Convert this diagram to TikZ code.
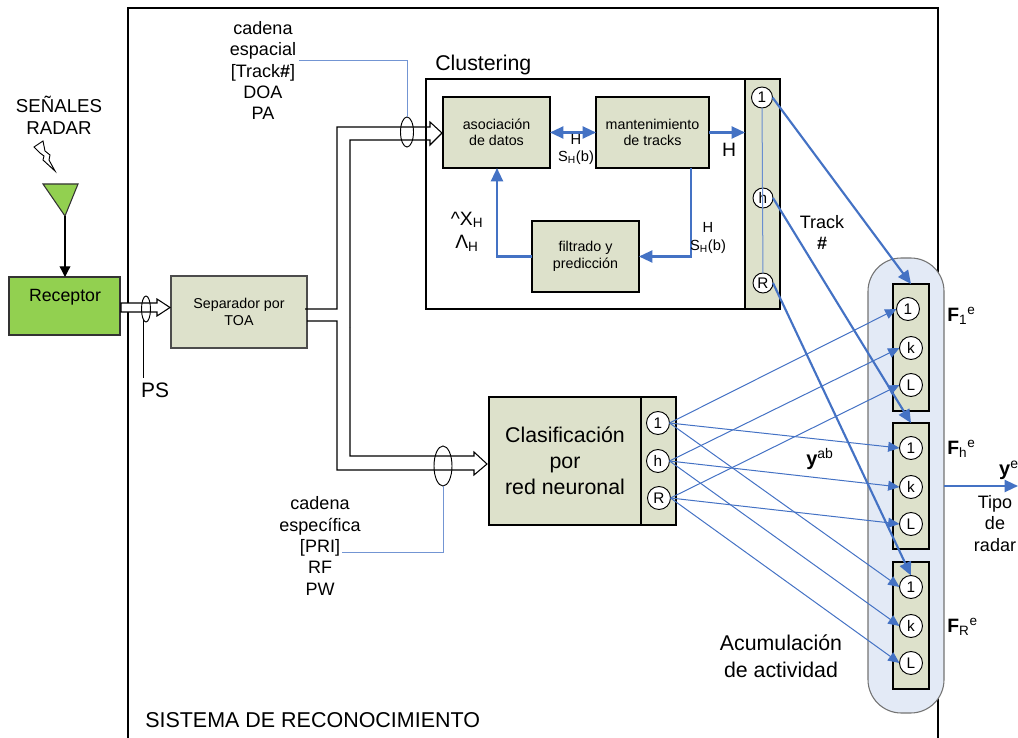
\documentclass[tikz,border=0pt]{standalone}
\usepackage{fontspec}
\setmainfont{Liberation Sans}
\usetikzlibrary{arrows.meta,shapes.geometric}
\definecolor{boxfill}{HTML}{DDE1CB}
\definecolor{recfill}{HTML}{92D050}
\definecolor{linkblue}{HTML}{4472C4}
\definecolor{capfill}{HTML}{E3EAF6}
\newcommand{\fs}[2]{\fontsize{#1}{#2}\selectfont}
\tikzset{
  proc/.style={draw=black,line width=1.5pt,fill=boxfill,inner sep=0pt,outer sep=0pt,align=center,font=\fs{10.7}{12.4}},
  ring/.style={circle,draw=black,line width=.7pt,fill=white,inner sep=0pt,outer sep=0pt,font=\fs{11.5}{12}},
  label/.style={inner sep=0pt,align=center,font=\fs{13.5}{16}},
  small/.style={inner sep=0pt,align=center,font=\fs{11}{12.8}},
  big/.style={inner sep=0pt,align=center,font=\fs{16}{20}},
  thicklink/.style={draw=linkblue,line width=1.6pt,-{Triangle[length=10pt,width=9pt]}},
  thinlink/.style={draw=linkblue,line width=.75pt,-{Triangle[length=8.5pt,width=7.5pt]}},
  tap/.style={draw=linkblue!75,line width=.75pt},
  pipe/.style={draw=black,line width=.8pt},
  bundle/.style={ellipse,draw=black,line width=.7pt,inner sep=0pt,outer sep=0pt},
  flabel/.style={inner sep=0pt,anchor=west,font=\fs{14.5}{16}}
}
\begin{document}
\begin{tikzpicture}[x=.75pt,y=-.75pt]
\useasboundingbox (0,0) rectangle (1018,738);
% system frame
\draw[line width=1.8pt] (128,738) -- (128,8) -- (938,8) -- (938,738);
\node[big,anchor=west,font=\fs{16.1}{20}] (sys) at (145,720) {SISTEMA DE RECONOCIMIENTO};
% antenna and receiver
\node[label,font=\fs{14}{16.5}] (sig) at (59,115.5) {SEÑALES\\RADAR};
\draw[line width=.7pt,fill=white,line join=miter] (34,147) -- (43,141) -- (45,151) -- (50,155) -- (49,160) -- (55,171) -- (43,160) -- (44,156) -- (40,153) -- cycle;
\node[draw=black!80,line width=.8pt,fill=recfill,minimum width=111pt*.75,minimum height=58pt*.75,inner sep=0pt,outer sep=0pt,anchor=north west] (rec) at (9,277) {};
\node[inner sep=0pt,font=\fs{13.3}{15}] (rectxt) at (65,297) {Receptor};
\path[draw=black!80,line width=.8pt,fill=recfill] (43,184) -- (78,184) -- (65,216) -- cycle;
\coordinate (tip) at (65,216);
\draw[line width=1pt,-{Triangle[length=8pt,width=8pt]}] (tip) -- (rec.north -| tip);
% separator
\node[proc,draw=black!70,line width=.9pt,minimum width=136pt*.75,minimum height=72pt*.75,anchor=north west] (sep) at (171,276) {Separador por\\TOA};
\draw[pipe,fill=white] (121,303) -- (157,303) -- (157,299) -- (170,307.5) -- (157,316) -- (157,312) -- (121,312) -- cycle;
\node[bundle,minimum width=9pt*.75,minimum height=26pt*.75] (psring) at (146,309) {};
\node[inner sep=0pt,font=\fs{15.7}{18}] (ps) at (155,390) {PS};
\draw[line width=.7pt] (143,320) -- (143,378);
% pipes
\draw[pipe] (305,309) -- (337,309) -- (337,127) -- (430,127) -- (430,122) -- (442,133) -- (430,145) -- (430,140) -- (350,140) -- (350,327);
\draw[pipe] (307,321) -- (337,321) -- (337,470) -- (474,470) -- (474,475) -- (487,464) -- (474,452) -- (474,456) -- (350,456) -- (350,327);
\node[bundle,minimum width=13pt*.75,minimum height=30pt*.75] (ringa) at (407,132) {};
\node[bundle,minimum width=18pt*.75,minimum height=40pt*.75] (ringb) at (443,466) {};
\node[label] (spatial) at (263,70.5) {cadena\\espacial\\[0pt][Track\textbf{\#}]\\DOA\\PA};
\node[label] (specific) at (320,546) {cadena\\específica\\[0pt][PRI]\\RF\\PW};
\coordinate (ca) at (299,61);
\coordinate (cb) at (342,552);
\draw[tap] (ringa.north) |- (ca);
\draw[tap] (ringb.south) |- (cb);
% clustering
\node[big,anchor=west] (clt) at (435,65) {Clustering};
\draw[line width=1.6pt] (426,79) rectangle (745,309);
\node[proc,minimum width=35pt*.75,minimum height=230pt*.75,anchor=north west] (band) at (745,79) {};
\node[proc,minimum width=107pt*.75,minimum height=71pt*.75,anchor=north west] (aso) at (443,97) {asociación\\de datos};
\node[proc,minimum width=113pt*.75,minimum height=71pt*.75,anchor=north west] (man) at (596,97) {mantenimiento\\de tracks};
\node[proc,minimum width=107pt*.75,minimum height=71pt*.75,anchor=north west] (fil) at (532,221) {filtrado y\\predicción};
\draw[thicklink,{Triangle[length=10pt,width=9pt]}-{Triangle[length=10pt,width=9pt]}] (aso) -- (man);
\draw[thicklink] (man.east) -- (band.west |- man.east);
\coordinate (manout) at (691,168);
\draw[thicklink] (manout) |- (fil.east);
\coordinate (asoin) at (497,168);
\draw[thicklink] (fil.west) -| (asoin);
\node[small] (lh1) at (576,149.5) {H\\S\textsubscript{H}(b)};
\node[small] (lh2) at (708,238) {H\\S\textsubscript{H}(b)};
\node[label,font=\fs{14.5}{16}] (lh3) at (729,150) {H};
\node[label,font=\fs{14.5}{17.5}] (lx) at (467,231.5) {\textasciicircum X\textsubscript{H}\\Λ\textsubscript{H}};
\node[ring,minimum size=21pt*.75] (t1) at (762,97.5) {1};
\node[ring,minimum size=20pt*.75] (th) at (763,198) {h};
\node[ring,minimum size=20pt*.75] (tr) at (763,283) {R};
\draw[tap,draw=linkblue!80] (t1) -- (tr);
\node[label] (trk) at (822,232.5) {Track\\\textbf{\#}};
% classifier
\node[proc,font=\fs{16}{19.5},minimum width=152pt*.75,minimum height=128pt*.75,anchor=north west] (cla) at (489,397) {Clasificación\\por\\red neuronal};
\node[proc,minimum width=35pt*.75,minimum height=128pt*.75,anchor=north west] (cband) at (641,397) {};
\node[ring,minimum size=23pt*.75] (c1) at (658,423) {1};
\node[ring,minimum size=23pt*.75] (ch) at (658,461) {h};
\node[ring,minimum size=23pt*.75] (cr) at (659,498) {R};
% accumulation capsule
\node[draw=black!55,line width=.8pt,fill=capfill,rounded corners=25pt,outer sep=0pt,minimum width=76pt*.75,minimum height=455pt*.75,anchor=north west] (cap) at (868,258) {};
\node[proc,minimum width=36pt*.75,minimum height=127pt*.75,anchor=north west] (fa) at (893,284) {};
\node[proc,minimum width=36pt*.75,minimum height=126pt*.75,anchor=north west] (fb) at (893,423) {};
\node[proc,minimum width=36pt*.75,minimum height=127pt*.75,anchor=north west] (fc) at (893,562) {};
\node[ring,minimum size=23pt*.75] (a1) at (908,309) {1};
\node[ring,minimum size=23pt*.75] (ak) at (911,348) {k};
\node[ring,minimum size=23pt*.75] (al) at (911,385) {L};
\node[ring,minimum size=23pt*.75] (b1) at (911,448) {1};
\node[ring,minimum size=23pt*.75] (bk) at (911,487) {k};
\node[ring,minimum size=23pt*.75] (bl) at (911,524) {L};
\node[ring,minimum size=23pt*.75] (d1) at (911,587) {1};
\node[ring,minimum size=23pt*.75] (dk) at (911,626) {k};
\node[ring,minimum size=23pt*.75] (dl) at (911,663) {L};
% classifier links
\draw[thinlink] (c1.east) -- (a1.west);
\draw[thinlink] (c1.east) -- (b1.west);
\draw[thinlink] (c1.east) -- (d1.west);
\draw[thinlink] (ch.east) -- (ak.west);
\draw[thinlink] (ch.east) -- (bk.west);
\draw[thinlink] (ch.east) -- (dk.west);
\draw[thinlink] (cr.east) -- (al.west);
\draw[thinlink] (cr.east) -- (bl.west);
\draw[thinlink] (cr.east) -- (dl.west);
% track links
\draw[thicklink] (t1.east) -- (fa.north);
\draw[thicklink] (th.east) -- (fb.north);
\draw[thicklink] (tr.east) -- (d1.north);
% output
\coordinate (out) at (1018,486);
\draw[thicklink] (cap.east |- out) -- (out);
\node[flabel] (fal) at (947,316) {\textbf{F}\textsubscript{1}\textsuperscript{e}};
\node[flabel] (fbl) at (947,449) {\textbf{F}\textsubscript{h}\textsuperscript{e}};
\node[flabel] (fcl) at (947,627) {\textbf{F}\textsubscript{R}\textsuperscript{e}};
\node[inner sep=0pt,font=\fs{15}{16}] (ye) at (1009,470) {\textbf{y}\textsuperscript{e}};
\node[inner sep=0pt,font=\fs{15}{16}] (yab) at (820,459) {\textbf{y}\textsuperscript{ab}};
\node[label] (tipo) at (995,523.5) {Tipo\\de\\radar};
\node[big] (acu) at (781,656.5) {Acumulación\\de actividad};
\end{tikzpicture}
\end{document}
